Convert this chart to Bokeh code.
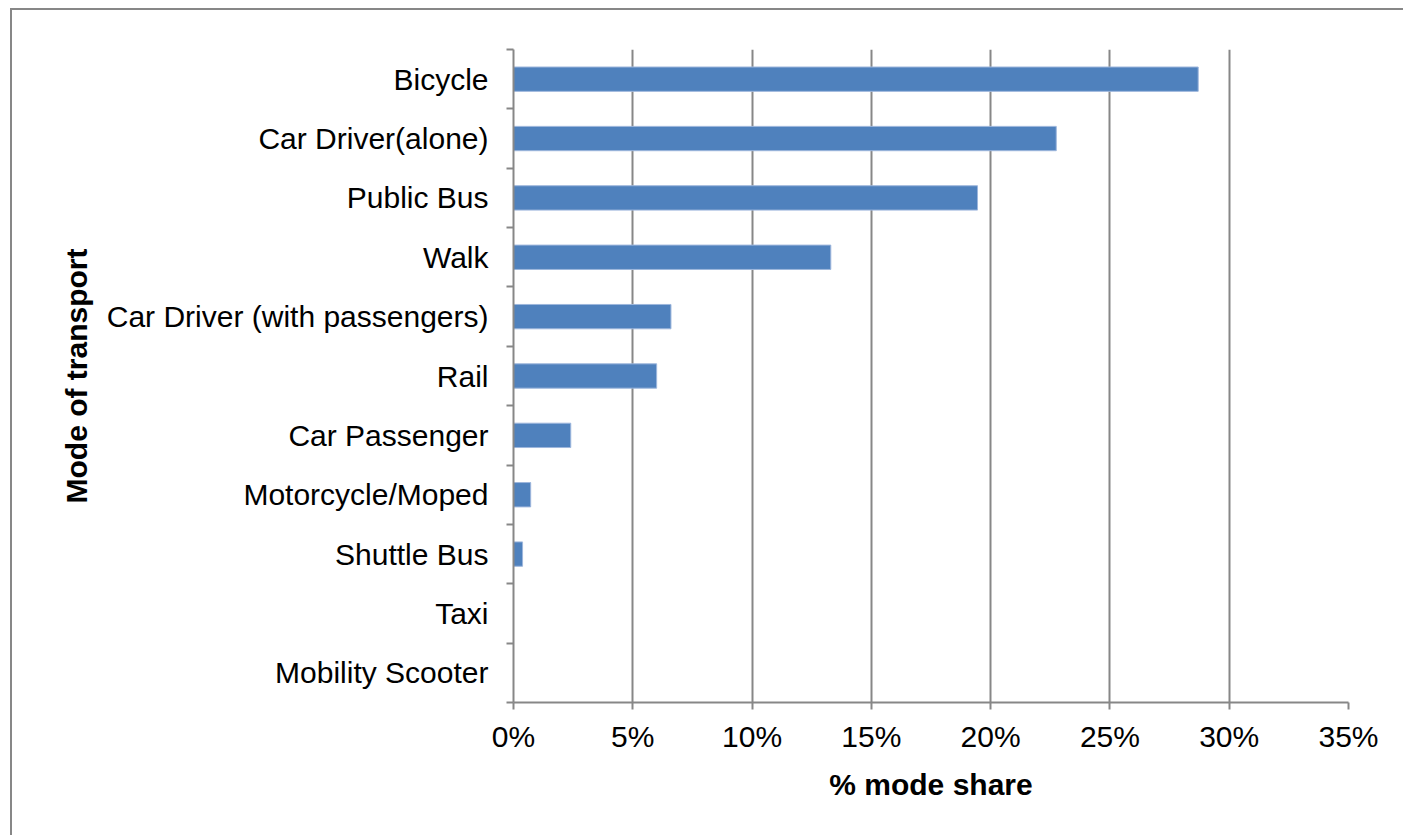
from bokeh.plotting import figure
from bokeh.models import FixedTicker, PrintfTickFormatter, ColumnDataSource, Range1d
from bokeh.embed import file_html
from bokeh.resources import INLINE

# ---- data ----
modes = ["Bicycle", "Car Driver(alone)", "Public Bus", "Walk",
         "Car Driver (with passengers)", "Rail", "Car Passenger",
         "Motorcycle/Moped", "Shuttle Bus", "Taxi", "Mobility Scooter"]
share = [28.7, 22.75, 19.45, 13.3, 6.6, 6.0, 2.4, 0.72, 0.38, 0.0, 0.0]
x_ticks = [0, 5, 10, 15, 20, 25, 30, 35]

FONT = "Liberation Sans"
FS = "30px"
GRAY = "#878787"
n = len(modes)
ypos = [n - 1 - i for i in range(n)]
source = ColumnDataSource(dict(mode=modes, share=share, y=ypos))

p = figure(frame_width=835, frame_height=653,
           x_range=Range1d(0, 35), y_range=Range1d(-0.5, n - 0.5),
           output_backend="svg", toolbar_location=None,
           min_border_left=501, min_border_top=39,
           min_border_bottom=133, min_border_right=55)

p.hbar(y="y", left=0, right="share", height=0.41, source=source,
       fill_color="#4F81BD", line_color="#9DB6DC", line_width=1)

p.outline_line_color = None
p.ygrid.visible = False
p.xgrid.ticker = FixedTicker(ticks=x_ticks)
p.xgrid.grid_line_color = GRAY
p.xgrid.grid_line_width = 2

# x axis
xa = p.xaxis[0]
xa.ticker = FixedTicker(ticks=x_ticks, minor_ticks=[])
xa.formatter = PrintfTickFormatter(format="%d%%")
xa.axis_line_color = GRAY
xa.axis_line_width = 2
xa.major_tick_line_color = GRAY
xa.major_tick_line_width = 2
xa.major_tick_out = 7
xa.major_tick_in = 0
xa.major_label_text_font = FONT
xa.major_label_text_font_size = FS
xa.major_label_text_color = "black"
xa.major_label_standoff = 10
xa.axis_label = "% mode share"
xa.axis_label_text_font = FONT
xa.axis_label_text_font_size = FS
xa.axis_label_text_font_style = "bold"
xa.axis_label_text_color = "black"
xa.axis_label_standoff = 12

# y axis: labels at category centres, ticks at boundaries (minor ticks)
ya = p.yaxis[0]
ya.ticker = FixedTicker(ticks=ypos, minor_ticks=[i - 0.5 for i in range(n + 1)])
ya.major_label_overrides = {y: m for y, m in zip(ypos, modes)}
ya.axis_line_color = GRAY
ya.axis_line_width = 2
ya.major_tick_line_color = None
ya.major_tick_out = 0
ya.major_tick_in = 0
ya.minor_tick_line_color = GRAY
ya.minor_tick_line_width = 2
ya.minor_tick_out = 7
ya.minor_tick_in = 0
ya.major_label_text_font = FONT
ya.major_label_text_font_size = FS
ya.major_label_text_color = "black"
ya.major_label_standoff = 18
ya.axis_label = "Mode of transport"
ya.axis_label_text_font = FONT
ya.axis_label_text_font_size = FS
ya.axis_label_text_font_style = "bold"
ya.axis_label_text_color = "black"
ya.axis_label_standoff = 11

p.styles = {"border-top": "2px solid " + GRAY, "border-left": "2px solid " + GRAY,
            "margin-left": "10px", "margin-top": "8px"}

open("out.html", "w").write(file_html(p, INLINE))
